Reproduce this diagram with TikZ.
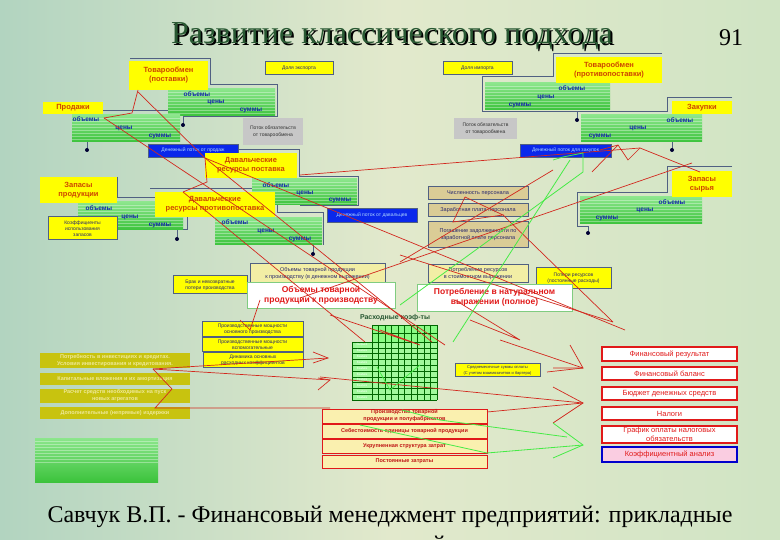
\documentclass[tikz,border=0pt]{standalone}
\usepackage{fontspec}
\setmainfont{Liberation Serif}
\setsansfont{Liberation Sans}
\definecolor{slate}{RGB}{80,96,130}
\definecolor{ylw}{RGB}{255,255,0}
\definecolor{otxt}{RGB}{205,70,0}
\definecolor{gtxt}{RGB}{20,40,170}
\definecolor{rline}{RGB}{210,40,30}
\definecolor{gline}{RGB}{70,235,70}
\definecolor{tanc}{RGB}{218,204,150}
\definecolor{paley}{RGB}{242,238,165}
\definecolor{olivec}{RGB}{200,195,15}
\definecolor{olivetxt}{RGB}{238,232,150}
\definecolor{bluebox}{RGB}{10,40,235}
\definecolor{blueboxtxt}{RGB}{175,215,255}
\definecolor{redtxt}{RGB}{225,25,25}
\definecolor{darktxt}{RGB}{40,40,110}
\definecolor{bgA}{RGB}{178,212,192}
\definecolor{bgB}{RGB}{226,233,204}
\definecolor{bgC}{RGB}{208,228,196}
\definecolor{gb1}{RGB}{140,230,140}
\definecolor{gb2}{RGB}{60,195,60}
\definecolor{titlec}{RGB}{40,88,50}
\definecolor{beigebox}{RGB}{250,240,175}
\definecolor{pinkc}{RGB}{250,205,225}
\tikzset{
  ylab/.style={fill=ylw,text=otxt,font=\sffamily\bfseries\fontsize{7.5}{9}\selectfont},
  ysm/.style={fill=ylw,draw=slate,line width=1pt,text=darktxt,font=\sffamily\fontsize{5}{6}\selectfont},
  bluec/.style={fill=bluebox,draw=slate,line width=0.6pt,text=blueboxtxt,font=\sffamily\fontsize{5}{6}\selectfont},
  grayc/.style={fill=black!22,text=black!80,font=\sffamily\fontsize{5}{6.5}\selectfont},
  tanbox/.style={fill=tanc,draw=slate,line width=1pt,text=darktxt,font=\sffamily\fontsize{5.5}{7}\selectfont},
  palebox/.style={fill=paley,draw=slate,line width=1pt,text=darktxt,font=\sffamily\fontsize{5.5}{7}\selectfont},
  whitebox/.style={fill=white,draw=green!60!black!50,line width=0.5pt,text=redtxt,font=\sffamily\bfseries\fontsize{8.5}{10}\selectfont},
  olivebox/.style={fill=olivec,text=olivetxt,font=\sffamily\bfseries\fontsize{5.5}{7}\selectfont},
  redbox/.style={fill=beigebox,draw=redtxt,line width=1pt,text=redtxt!85!black,font=\sffamily\bfseries\fontsize{5.5}{7}\selectfont},
  finbox/.style={fill=white,draw=redtxt,line width=1.2pt,text=redtxt,font=\sffamily\fontsize{7.5}{8.5}\selectfont},
  gword/.style={text=gtxt,font=\sffamily\bfseries\fontsize{6.5}{7}\selectfont,inner sep=0pt},
  frame/.style={draw=slate,line width=1pt},
  rl/.style={draw=rline,line width=0.7pt},
  gl/.style={draw=gline,line width=0.8pt},
  dotc/.style={circle,fill=black!80!blue,inner sep=0pt,minimum size=4pt},
}
\newcommand{\bx}[7]{\node[#2,minimum width={(#5-#3)*1pt},minimum height={(#6-#4)*1pt},inner sep=0pt,align=center] (#1) at ({(#3+#5)/2},{(#4+#6)/2}) {#7};}
\newcommand{\gbar}[5]{%
  \shade[top color=gb1,bottom color=gb2] (#2,#3) rectangle (#4,#5);
  \foreach \k in {1,...,8}{\draw[white,opacity=0.35,line width=0.8pt] (#2,{#3+\k*3}) -- (#4,{#3+\k*3});}
  \node[inner sep=0pt,minimum width={(#4-#2)*1pt},minimum height={(#5-#3)*1pt}] (#1) at ({(#2+#4)/2},{(#3+#5)/2}) {};}
\newcommand{\shadowtitle}[1]{\makebox[0pt][l]{\hspace{1.8pt}\raisebox{-1.8pt}{\textcolor{black}{#1}}}\textcolor{titlec}{#1}}
\begin{document}
\begin{tikzpicture}[x=1pt,y=-1pt]
\useasboundingbox (0,0) rectangle (780,540);
\clip (0,0) rectangle (780,540);
\shade[left color=bgA,right color=bgC,middle color=bgB] (0,0) rectangle (780,540);

% title
\node[anchor=base,font=\fontsize{32}{36}\selectfont] (title) at (392,44) {\shadowtitle{Развитие классического подхода}};
\node[anchor=base,font=\fontsize{24}{28}\selectfont] (pnum) at (731,46) {91};

% ---------- frames (behind) ----------
\draw[frame] (130,59) -| (210,85) -| (277,117) -| (183,125);
\draw[frame] (103,111) -| (183,118);
\draw[frame] (87,142) -- (87,150);
\draw[frame] (238,150) -| (299,177) -| (358,206) -- (300,206);
\draw[frame] (150,189) -| (277,213) -| (323,245);
\draw[frame] (313,245) -- (313,254);
\draw[frame] (117,177) -- (117,198) -| (187,230) -| (177,239);
\draw[frame] (662,54) -| (553,77) -| (482,112) -| (577,120);
\draw[frame] (732,98) -| (667,112) -- (577,112);
\draw[frame] (672,142) -- (672,150);
\draw[frame] (732,167) -| (667,193) -| (577,227) -| (588,233);

% ---------- green bars ----------
\gbar{gA}{168}{89}{275}{116}
\gbar{gB}{72}{115}{180}{142}
\gbar{gC}{252}{179}{357}{205}
\gbar{gD}{215}{218}{322}{245}
\gbar{gE}{78}{202}{183}{230}
\gbar{gF}{485}{83}{610}{110}
\gbar{gG}{581}{115}{702}{142}
\gbar{gH}{580}{197}{702}{224}
\gbar{gI}{35}{438}{158}{482}

\node[gword] (gA1) at (197,94) {объемы};
\node[gword] (gA2) at (216,102) {цены};
\node[gword] (gA3) at (251,110) {суммы};
\node[gword] (gB1) at (86,119) {объемы};
\node[gword] (gB2) at (124,128) {цены};
\node[gword] (gB3) at (160,136) {суммы};
\node[gword] (gC1) at (276,185) {объемы};
\node[gword] (gC2) at (305,193) {цены};
\node[gword] (gC3) at (340,200) {суммы};
\node[gword] (gD1) at (235,222) {объемы};
\node[gword] (gD2) at (266,231) {цены};
\node[gword] (gD3) at (300,239) {суммы};
\node[gword] (gE1) at (99,208) {объемы};
\node[gword] (gE2) at (130,217) {цены};
\node[gword] (gE3) at (160,225) {суммы};
\node[gword] (gF1) at (572,88) {объемы};
\node[gword] (gF2) at (546,97) {цены};
\node[gword] (gF3) at (520,105) {суммы};
\node[gword] (gG1) at (680,120) {объемы};
\node[gword] (gG2) at (638,128) {цены};
\node[gword] (gG3) at (600,136) {суммы};
\node[gword] (gH1) at (672,202) {объемы};
\node[gword] (gH2) at (645,210) {цены};
\node[gword] (gH3) at (607,218) {суммы};
\draw[frame] (183,118) -- (183,125);

% dots
\node[dotc] (dA) at (183,125) {};
\node[dotc] (dB) at (87,150) {};
\node[dotc] (dD) at (313,254) {};
\node[dotc] (dE) at (177,239) {};
\node[dotc] (dF) at (577,120) {};
\node[dotc] (dG) at (672,150) {};
\node[dotc] (dH) at (588,233) {};

% ---------- labels ----------
\bx{tovP}{ylab}{129}{61}{208}{90}{Товарообмен\\(поставки)}
\bx{prod}{ylab}{43}{102}{103}{114}{Продажи}
\bx{exp}{ysm}{265}{62}{333}{75}{Доля экспорта}
\bx{potA}{grayc}{243}{118}{303}{145}{Поток обязательств\\от товарообмена}
\bx{dpP}{bluec}{148}{144}{238}{157}{Денежный поток от продаж}
\bx{davP}{ylab}{205}{153}{297}{178}{Давальческие\\ресурсы поставка}
\bx{davC}{ylab}{155}{192}{275}{217}{Давальческие\\ресурсы противопоставка}
\bx{dpD}{bluec}{327}{208}{417}{222}{Денежный поток от давальцев}
\bx{zapP}{ylab}{40}{177}{117}{203}{Запасы\\продукции}
\bx{koef}{ysm}{48}{217}{117}{240}{Коэффициенты\\использования\\запасов}

\bx{imp}{ysm}{443}{62}{512}{75}{Доля импорта}
\bx{tovC}{ylab}{556}{57}{662}{83}{Товарообмен\\(противопоставки)}
\bx{zak}{ylab}{672}{101}{732}{114}{Закупки}
\bx{potB}{grayc}{454}{118}{517}{139}{Поток обязательств\\от товарообмена}
\bx{dpZ}{bluec}{520}{144}{611}{157}{Денежный поток для закупок}
\bx{zapS}{ylab}{672}{171}{732}{197}{Запасы\\сырья}

\bx{pers1}{tanbox}{428}{187}{528}{200}{Численность персонала}
\bx{pers2}{tanbox}{428}{204}{528}{217}{Заработная плата персонала}
\bx{pers3}{tanbox}{428}{222}{528}{248}{Погашение задолженности по\\заработной плате персонала}

\bx{brak}{ysm}{173}{276}{247}{294}{Брак и невозвратные\\потери производства}
\bx{obD}{palebox}{250}{264}{385}{283}{Объемы товарной продукции\\к производству (в денежном выражении)}
\bx{potrS}{palebox}{428}{265}{528}{283}{Потребление ресурсов\\в стоимостном выражении}
\bx{poter}{ysm}{536}{268}{611}{289}{Потери ресурсов\\(постоянные расходы)}
\bx{obN}{whitebox}{247}{282}{395}{308}{Объемы товарной\\продукции к производству}
\bx{potrN}{whitebox}{417}{284}{572}{311}{Потребление в натуральном\\выражении (полное)}

\bx{pm1}{ysm}{202}{322}{303}{337}{Производственные мощности\\основного производства}
\bx{pm2}{ysm}{202}{338}{303}{352}{Производственные мощности\\вспомогательные}
\bx{pm3}{ysm}{203}{353}{303}{368}{Динамика основных\\расходных коэффициентов}

\bx{ol1}{olivebox}{40}{353}{190}{368}{Потребность в инвестициях и кредитах.\\Условия инвестирования и кредитования.}
\bx{ol2}{olivebox}{40}{373}{190}{385}{Капитальные вложения и их амортизация}
\bx{ol3}{olivebox}{40}{389}{190}{403}{Расчет средств необходимых на пуск\\новых агрегатов}
\bx{ol4}{olivebox}{40}{407}{190}{419}{Дополнительные (непрямые) издержки}

% table
\node[text=titlec,font=\sffamily\bfseries\fontsize{7}{8}\selectfont] (tabt) at (395,318) {Расходные коэф-ты};
\fill[green!55!white,opacity=0.8] (372,325) rectangle (437,342);
\fill[green!45!white,opacity=0.75] (352,342) rectangle (437,400);
\foreach \c in {0,...,10}{\draw[green!40!black,line width=0.4pt] ({372+\c*6.5},325) -- ({372+\c*6.5},400);}
\foreach \r in {0,...,10}{\draw[green!40!black,line width=0.4pt] (352,{342+\r*5.8}) -- (437,{342+\r*5.8});}
\draw[green!40!black,line width=0.4pt] (372,325) -- (437,325) (372,333.5) -- (437,333.5) (352,342) -- (352,400);
\node[inner sep=0pt,minimum width=85pt,minimum height=75pt] (tab) at (394.5,362.5) {};
\foreach \r in {1,...,9}{\node[font=\sffamily\fontsize{3}{3}\selectfont,text=white,inner sep=0pt] (tl\r) at (362,{345+\r*5.8}) {Feature};}
\node[font=\sffamily\fontsize{3}{3}\selectfont,text=white,inner sep=0pt] (tl0) at (362,345) {Сырье1};

\bx{srm}{ysm}{455}{364}{540}{377}{\fontsize{4}{4.5}\selectfont Среднемесячные суммы оплаты\\\fontsize{4}{4.5}\selectfont(С учетом взаимозачетов и бартера)}

\bx{rb1}{redbox}{322}{409}{487}{423}{Производство товарной\\продукции и полуфабрикатов}
\bx{rb2}{redbox}{322}{424}{487}{438}{Себестоимость единицы товарной продукции}
\bx{rb3}{redbox}{322}{439}{487}{453}{Укрупненная структура затрат}
\bx{rb4}{redbox}{322}{455}{487}{468}{Постоянные затраты}

\bx{f1}{finbox}{602}{347}{737}{361}{Финансовый результат}
\bx{f2}{finbox}{602}{367}{737}{380}{Финансовый баланс}
\bx{f3}{finbox}{602}{387}{737}{400}{Бюджет денежных средств}
\bx{f4}{finbox}{602}{407}{737}{420}{Налоги}
\bx{f5}{finbox}{602}{426}{737}{443}{График оплаты налоговых\\обязательств}
\bx{f6}{finbox,fill=pinkc,draw=blue!80!black}{602}{447}{737}{462}{Коэффициентный анализ}

% ---------- red connectors ----------
\draw[rl] (138,90) -- (132,113) -- (104,118);
\draw[rl] (104,118) -- (445,345);
\draw[rl] (138,92) -- (205,158) -- (432,342);
\draw[rl] (205,158) -- (207,182) -- (183,192);
\draw[rl] (183,192) -- (365,342);
\draw[rl] (205,158) -- (625,330);
\draw[rl] (300,298) -- (692,163);
\draw[rl] (465,197) -- (453,222) -- (503,215) -- (465,197);
\draw[rl] (503,215) -- (613,322);
\draw[rl] (400,255) -- (613,322);
\draw[rl] (553,170) -- (400,262);
\draw[rl] (600,150) -- (618,145) -- (628,160) -- (640,148) -- (700,172);
\draw[rl] (592,172) -- (618,145);
\draw[rl] (300,175) -- (640,148);
\draw[rl] (260,300) -- (250,330) -- (240,320);
\draw[rl] (153,369) -- (328,358);
\draw[rl] (153,369) -- (330,380);
\draw[rl] (153,369) -- (172,389) -- (155,408) -- (330,408);
\draw[rl] (313,352) -- (328,358) -- (313,363);
\draw[rl] (318,378) -- (330,380) -- (318,390);
\draw[rl] (320,377) -- (583,403);
\draw[rl] (487,412) -- (583,403);
\draw[rl] (553,387) -- (583,403) -- (553,423);
\draw[rl] (500,340) -- (583,368);
\draw[rl] (547,372) -- (583,368);
\draw[rl] (570,345) -- (583,368) -- (553,368);
\draw[rl] (330,315) -- (420,345) -- (380,330);
\draw[rl] (455,300) -- (520,340) -- (470,320);

% ---------- green connectors ----------
\draw[gl] (583,153) -- (583,172) -- (400,305);
\draw[gl] (570,160) -- (453,342);
\draw[gl] (553,160) -- (563,157) -- (583,153);
\draw[gl] (377,367) -- (390,390) -- (420,365);
\draw[gl] (440,420) -- (567,437);
\draw[gl] (487,453) -- (583,445);
\draw[gl] (553,423) -- (583,445) -- (553,458);
\draw[gl] (402,410) -- (440,420);
\draw[gl] (360,425) -- (487,453);

% bottom text
\node[anchor=base west,font=\fontsize{24}{28}\selectfont] (ref1) at (44,522) {Савчук В.П. - Финансовый менеджмент предприятий: прикладные};
\node[anchor=base west,font=\fontsize{24}{28}\selectfont] (ref2) at (44,552) {вопросы с анализом деловых ситуаций};
\end{tikzpicture}
\end{document}
